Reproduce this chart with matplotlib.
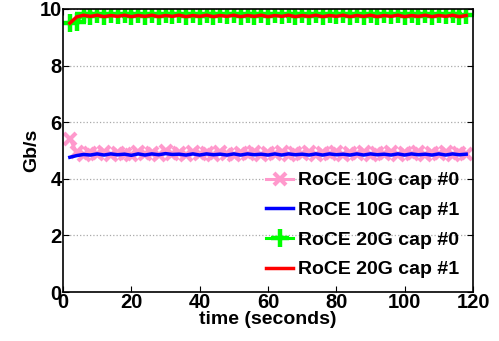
import matplotlib
matplotlib.use("Agg")
import matplotlib.pyplot as plt
import numpy as np

plt.rcParams['font.family'] = ['Liberation Sans', 'DejaVu Sans']
plt.rcParams['font.weight'] = 'bold'

# time axis, one sample every 2 seconds
time_s = np.arange(2, 120, 2)

roce10_cap0 = [5.40, 4.95, 4.85, 4.92, 4.86, 4.93, 4.85, 4.92, 4.88, 4.85,
               4.93, 4.86, 4.92, 4.85, 4.97, 4.86, 4.92, 4.85, 4.93, 4.86,
               4.92, 4.85, 4.93, 4.88, 4.85, 4.92, 4.86, 4.93, 4.85, 4.92,
               4.86, 4.93, 4.85, 4.92, 4.86, 4.93, 4.85, 4.92, 4.86, 4.93,
               4.85, 4.92, 4.86, 4.93, 4.85, 4.92, 4.86, 4.93, 4.85, 4.92,
               4.86, 4.93, 4.85, 4.92, 4.86, 4.93, 4.85, 4.92, 4.88]
roce10_cap1 = [4.76, 4.82, 4.86, 4.84, 4.88, 4.84, 4.88, 4.85, 4.87, 4.83,
               4.88, 4.84, 4.88, 4.85, 4.89, 4.86, 4.87, 4.84, 4.88, 4.84,
               4.88, 4.85, 4.87, 4.84, 4.88, 4.84, 4.88, 4.85, 4.87, 4.84,
               4.88, 4.84, 4.88, 4.85, 4.87, 4.84, 4.88, 4.84, 4.88, 4.85,
               4.87, 4.84, 4.88, 4.84, 4.88, 4.85, 4.87, 4.84, 4.88, 4.84,
               4.88, 4.85, 4.87, 4.84, 4.88, 4.84, 4.88, 4.85, 4.87]
roce20_cap0 = [9.50, 9.55, 9.82, 9.76, 9.84, 9.76, 9.82, 9.78, 9.84, 9.76,
               9.82, 9.77, 9.84, 9.76, 9.82, 9.78, 9.84, 9.76, 9.82, 9.77,
               9.84, 9.76, 9.82, 9.78, 9.84, 9.76, 9.82, 9.77, 9.84, 9.76,
               9.82, 9.78, 9.84, 9.76, 9.82, 9.77, 9.84, 9.76, 9.82, 9.78,
               9.84, 9.76, 9.82, 9.77, 9.84, 9.76, 9.82, 9.78, 9.84, 9.76,
               9.82, 9.77, 9.84, 9.76, 9.82, 9.78, 9.84, 9.76, 9.80]
roce20_cap1 = [9.50, 9.72, 9.78, 9.74, 9.78, 9.73, 9.77, 9.74, 9.78, 9.73,
               9.77, 9.74, 9.78, 9.73, 9.77, 9.74, 9.78, 9.73, 9.77, 9.74,
               9.78, 9.73, 9.77, 9.74, 9.78, 9.73, 9.77, 9.74, 9.78, 9.73,
               9.77, 9.74, 9.78, 9.73, 9.77, 9.74, 9.78, 9.73, 9.77, 9.74,
               9.78, 9.73, 9.77, 9.74, 9.78, 9.73, 9.77, 9.74, 9.78, 9.73,
               9.77, 9.74, 9.78, 9.73, 9.77, 9.74, 9.78, 9.73, 9.77]

fig = plt.figure(figsize=(4.99, 3.41), dpi=100)
ax = fig.add_axes([63 / 499, 1 - 292 / 341, 410 / 499, 283 / 341])

ax.plot(time_s, roce10_cap0, color='#ff99cc', lw=2.2, marker='x', ms=8, mew=3,
        label='RoCE 10G cap #0')
ax.plot(time_s, roce10_cap1, color='#0000ff', lw=2.5, label='RoCE 10G cap #1')
ax.plot(time_s, roce20_cap0, color='#00ff00', lw=2.2, marker='+', ms=13, mew=3.2,
        label='RoCE 20G cap #0')
ax.plot(time_s, roce20_cap1, color='#ff0000', lw=2.5, label='RoCE 20G cap #1')

ax.set_xlim(0, 120)
ax.set_ylim(0, 10)
ax.set_xticks(range(0, 121, 20))
ax.set_yticks(range(0, 11, 2))
ax.yaxis.grid(True, linestyle=':', color='#aaaaaa', lw=0.9)
ax.tick_params(direction='in', top=True, right=True, labelsize=14.5, pad=1, length=4)
for s in ax.spines.values():
    s.set_linewidth(1.2)

ax.set_xlabel('time (seconds)', fontsize=14, fontweight='bold', labelpad=-1)
ax.set_ylabel('Gb/s', fontsize=14, fontweight='bold', labelpad=-1)

ax.legend(loc='lower right', frameon=False, fontsize=14, handlelength=1.4,
          handletextpad=0.25, labelspacing=0.62, borderaxespad=0.3)

fig.savefig('out.png', dpi=100)
